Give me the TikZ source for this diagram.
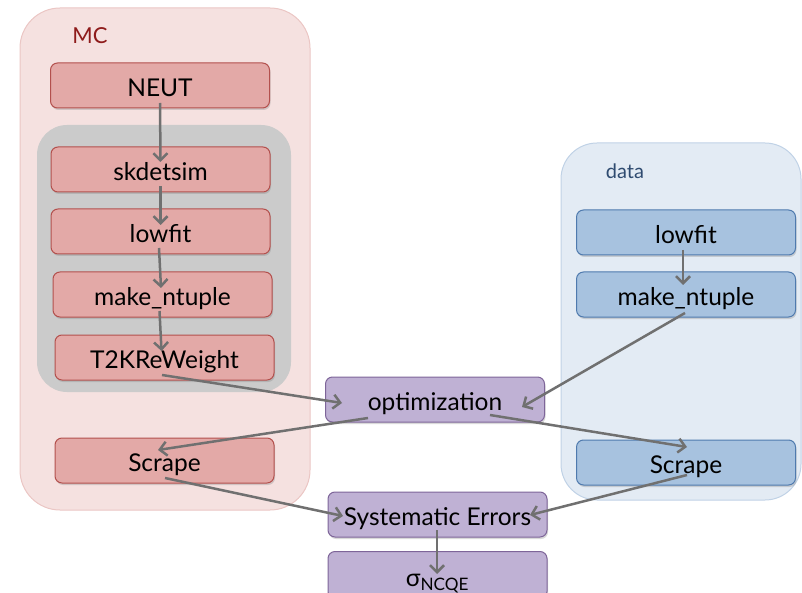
\documentclass[tikz,border=0pt]{standalone}
\usepackage{fontspec}
\setmainfont{Lato}
\usetikzlibrary{shadows,arrows.meta}
\definecolor{mcback}{HTML}{F5E1E0}
\definecolor{mcedge}{HTML}{EBC6C4}
\definecolor{mcfill}{HTML}{E3A9A7}
\definecolor{mcline}{HTML}{B3504D}
\definecolor{mctext}{HTML}{8E1B1B}
\definecolor{simback}{HTML}{CBCBCB}
\definecolor{dback}{HTML}{E3EBF4}
\definecolor{dedge}{HTML}{C0D2E6}
\definecolor{dfill}{HTML}{A7C2DF}
\definecolor{dline}{HTML}{4F7AAE}
\definecolor{dtext}{HTML}{2F4B70}
\definecolor{pfill}{HTML}{BFB1D4}
\definecolor{pline}{HTML}{7E6599}
\definecolor{flowgray}{HTML}{707070}
\begin{document}
\begin{tikzpicture}[x=1pt,y=-1pt,
    stage/.style={draw, line width=1pt, rounded corners=7pt,
        minimum width=219pt, minimum height=45pt, inner sep=0pt,
        font=\fontsize{24.5}{28}\selectfont, text height=25.5pt, text depth=3pt,
        drop shadow={opacity=0.3, shadow xshift=1pt, shadow yshift=-2pt}},
    mcstage/.style={stage, fill=mcfill, draw=mcline},
    dstage/.style={stage, fill=dfill, draw=dline},
    pstage/.style={stage, fill=pfill, draw=pline},
    flow/.style={draw=flowgray, line width=2.5pt,
        -{Straight Barb[length=7pt, width=14pt]}}]
    \useasboundingbox (0,0) rectangle (802,593);
    % groups
    \draw[mcedge, fill=mcback, line width=1pt, rounded corners=40pt] (20,8) rectangle (310,510);
    \draw[dedge, fill=dback, line width=1pt, rounded corners=36pt] (561,143) rectangle (801,500);
    \fill[simback, rounded corners=30pt] (37,125) rectangle (291,392);
    \node[mctext, font=\fontsize{22}{26}\selectfont] (mclabel) at (90,36) {MC};
    \node[dtext, font=\fontsize{20}{24}\selectfont] (dlabel) at (625,171) {data};
    % MC chain
    \node[mcstage] (neut) at (160,85.5) {NEUT};
    \node[mcstage] (skdetsim) at (160.5,169.5) {skdetsim};
    \node[mcstage] (mclowfit) at (160.5,231.5) {lowfit};
    \node[mcstage] (mcntuple) at (162.5,294.5) {make\_ntuple};
    \node[mcstage] (reweight) at (164.5,357.5) {T2KReWeight};
    \node[mcstage] (mcscrape) at (164.5,460.5) {Scrape};
    % data chain
    \node[dstage] (dlowfit) at (686,232.5) {lowfit};
    \node[dstage] (dntuple) at (686,294.5) {make\_ntuple};
    \node[dstage] (dscrape) at (686,462.5) {Scrape};
    % common
    \node[pstage] (optim) at (435,399.5) {optimization};
    \node[pstage] (syserr) at (437.5,514.5) {Systematic Errors};
    \node[pstage, minimum height=47pt] (sigma) at (437.5,575) {σ\textsubscript{NCQE}};
    % arrows
    \draw[flow] ([yshift=-17.5pt]neut.center) -- ([yshift=7.5pt]skdetsim.center);
    \draw[flow] ([yshift=-16.5pt]skdetsim.center) -- ([yshift=6.5pt]mclowfit.center);
    \draw[flow] ([xshift=-1.5pt,yshift=-16.5pt]mclowfit.center) -- ([xshift=-1.5pt,yshift=6.5pt]mcntuple.center);
    \draw[flow] ([xshift=-3pt,yshift=-16.5pt]mcntuple.center) -- ([xshift=-3pt,yshift=6.5pt]reweight.center);
    \draw[flow] ([xshift=-3pt,yshift=-17.5pt]dlowfit.center) -- ([xshift=-3pt,yshift=9.5pt]dntuple.center);
    \draw[flow] ([xshift=-2.5pt,yshift=-17.5pt]reweight.center) -- ([xshift=-93pt,yshift=-3.5pt]optim.center);
    \draw[flow] ([xshift=-1pt,yshift=-18.5pt]dntuple.center) -- ([xshift=87pt,yshift=-7.5pt]optim.center);
    \draw[flow] ([xshift=-67pt,yshift=-18.5pt]optim.center) -- ([xshift=-6.5pt,yshift=10.5pt]mcscrape.center);
    \draw[flow] ([xshift=55pt,yshift=-15.5pt]optim.center) -- ([xshift=1pt,yshift=15.5pt]dscrape.center);
    \draw[flow] ([xshift=0.5pt,yshift=-17.5pt]mcscrape.center) -- ([xshift=-94.5pt,yshift=-1.5pt]syserr.center);
    \draw[flow] ([xshift=1pt,yshift=-12.5pt]dscrape.center) -- ([xshift=92.5pt,yshift=-0.5pt]syserr.center);
    \draw[flow] ([xshift=-0.5pt,yshift=-15.5pt]syserr.center) -- ([xshift=-0.5pt,yshift=1pt]sigma.center);
\end{tikzpicture}
\end{document}
